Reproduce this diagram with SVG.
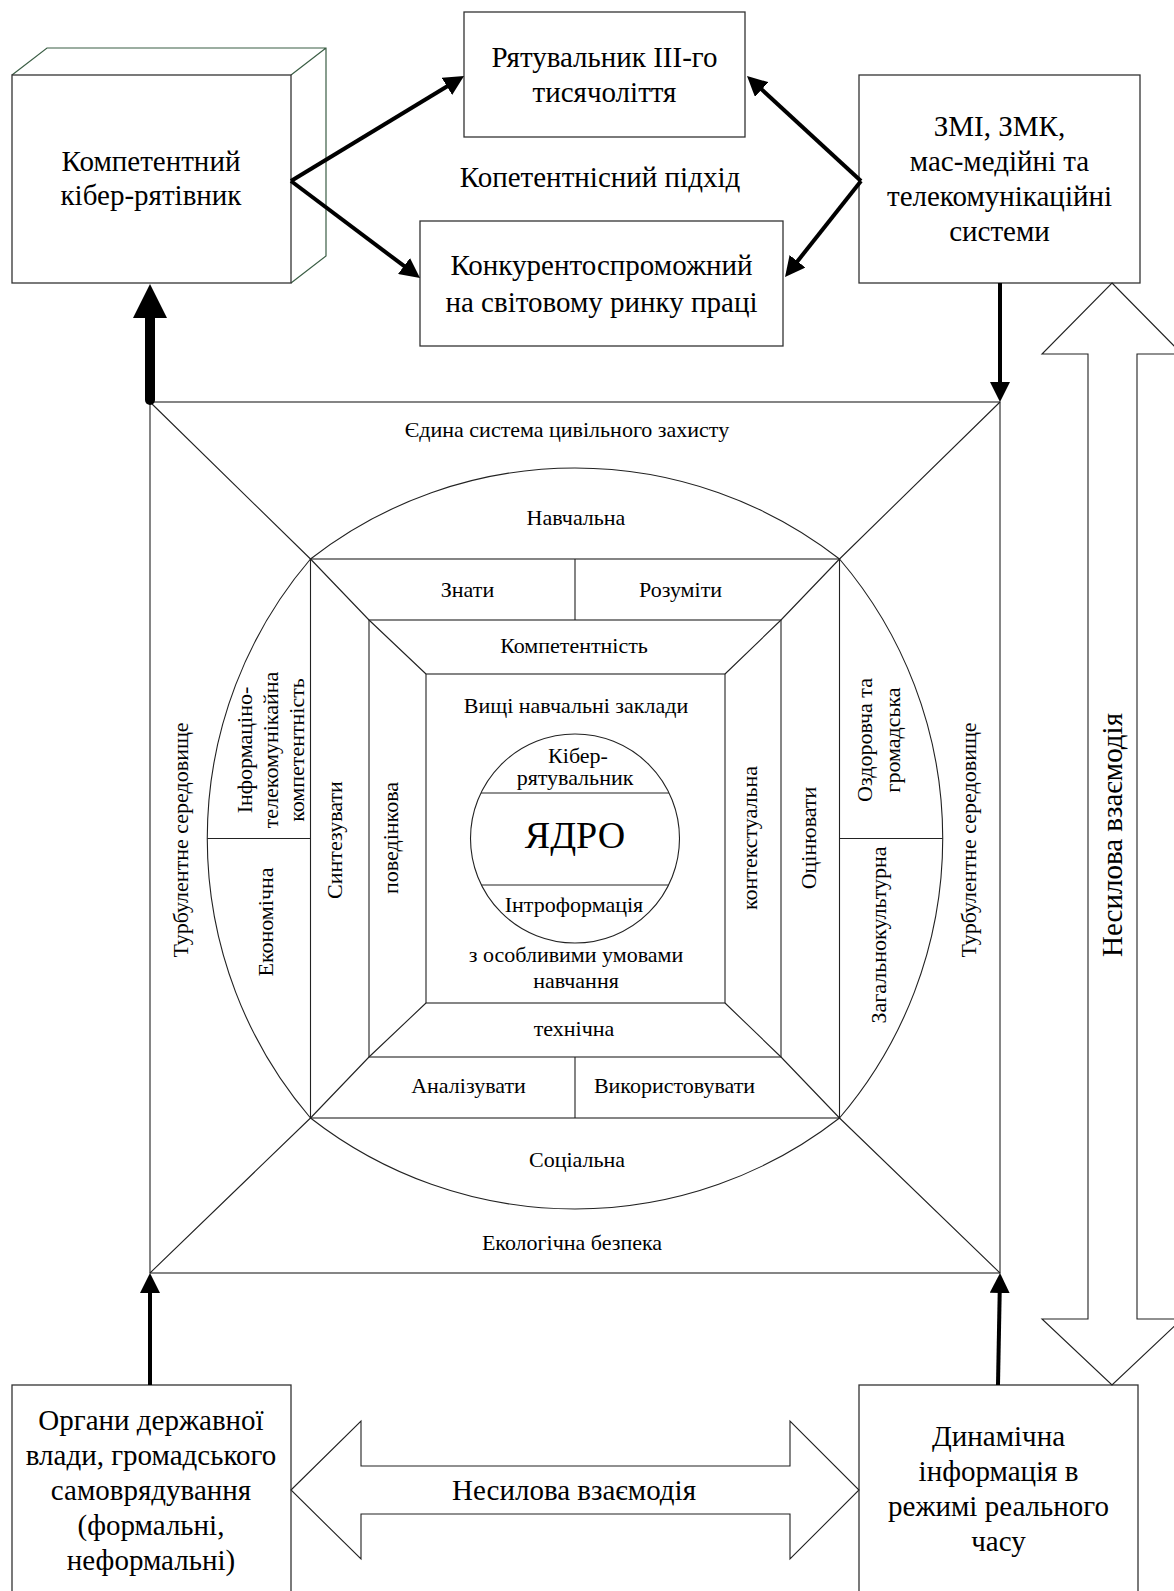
<svg xmlns="http://www.w3.org/2000/svg" width="1174" height="1591" viewBox="0 0 1174 1591">
<style>
  .box{fill:#fff;stroke:#333;stroke-width:1.3}
  .edge{fill:none;stroke:#3b5e45;stroke-width:1.2}
  .ln{fill:none;stroke:#222;stroke-width:1.1}
  .t{font-family:"Liberation Serif","Times New Roman",serif;fill:#000;text-anchor:middle}
  .big{font-size:29px}
  .sm{font-size:22px}
  .arr{fill:none;stroke:#000;stroke-width:4;marker-end:url(#ah)}
  .block{fill:#fff;stroke:#222;stroke-width:1.1}
</style>
<defs>
  <marker id="ah" viewBox="0 0 20 20" refX="12" refY="10" markerWidth="20" markerHeight="20" markerUnits="userSpaceOnUse" orient="auto">
    <path d="M0,0 L20,10 L0,20 z" fill="#000"/>
  </marker>
  <marker id="ahBig" viewBox="0 0 34 34" refX="14" refY="17" markerWidth="34" markerHeight="34" markerUnits="userSpaceOnUse" orient="auto">
    <path d="M0,0 L34,17 L0,34 z" fill="#000"/>
  </marker>
</defs>
<rect width="1174" height="1591" fill="#fff"/>

<!-- Model (central scheme) -->
<g id="model">
  <rect class="ln" x="150" y="402" width="850" height="871"/>
  <path class="ln" d="M150,402 L310.5,559 M1000,402 L839.5,559 M150,1273 L310.5,1118 M1000,1273 L839.5,1118"/>
  <path class="ln" d="M310.5,559 A430,430 0 0 1 839.5,559 A430,430 0 0 1 839.5,1118 A430,430 0 0 1 310.5,1118 A430,430 0 0 1 310.5,559 Z"/>
  <rect class="ln" x="310.5" y="559" width="529" height="559"/>
  <rect class="ln" x="369" y="620" width="412" height="437"/>
  <rect class="ln" x="426" y="674" width="299" height="329"/>
  <path class="ln" d="M310.5,559 L369,620 L426,674 M839.5,559 L781,620 L725,674 M310.5,1118 L369,1057 L426,1003 M839.5,1118 L781,1057 L725,1003"/>
  <path class="ln" d="M575,559 V620 M575,1057 V1118 M207.3,838.5 H310.5 M839.5,838.5 H942.7"/>
  <circle class="ln" cx="575" cy="838.5" r="104.5"/>
  <path class="ln" d="M481,793 H669 M481.5,885 H668.5"/>

  <g class="t sm">
    <text x="567" y="437">Єдина система цивільного захисту</text>
    <text x="576" y="525">Навчальна</text>
    <text x="467.5" y="597">Знати</text>
    <text x="680.5" y="597">Розуміти</text>
    <text x="574" y="653">Компетентність</text>
    <text x="576" y="713">Вищі навчальні заклади</text>
    <text x="578" y="763">Кібер-</text>
    <text x="575" y="785">рятувальник</text>
    <text x="574" y="912">Інтроформація</text>
    <text x="576" y="962">з особливими умовами</text>
    <text x="576" y="988">навчання</text>
    <text x="574" y="1036">технічна</text>
    <text x="468.5" y="1093">Аналізувати</text>
    <text x="674.5" y="1093">Використовувати</text>
    <text x="577" y="1167">Соціальна</text>
    <text x="572" y="1250">Екологічна безпека</text>
    <text transform="translate(188,840) rotate(-90)">Турбулентне середовище</text>
    <text transform="translate(252,750) rotate(-90)">Інформаціно-</text>
    <text transform="translate(278,750) rotate(-90)">телекомунікайна</text>
    <text transform="translate(304,750) rotate(-90)">компетентність</text>
    <text transform="translate(273,922) rotate(-90)">Економічна</text>
    <text transform="translate(342,840) rotate(-90)">Синтезувати</text>
    <text transform="translate(398,838) rotate(-90)">поведінкова</text>
    <text transform="translate(757,838) rotate(-90)">контекстуальна</text>
    <text transform="translate(816,838) rotate(-90)">Оцінювати</text>
    <text transform="translate(872,740) rotate(-90)">Оздоровча та</text>
    <text transform="translate(900,740) rotate(-90)">громадська</text>
    <text transform="translate(886,935) rotate(-90)">Загальнокультурна</text>
    <text transform="translate(976,840) rotate(-90)">Турбулентне середовище</text>
  </g>
  <text class="t" x="575" y="848" font-size="38">ЯДРО</text>
</g>

<!-- Top nodes -->
<g id="cyber-rescuer">
  <path class="edge" d="M12,75 L47,48 H326 V256 L291,283 M291,75 L326,48"/>
  <rect class="box" x="12" y="75" width="279" height="208"/>
  <text class="t big" x="151" y="171">Компетентний</text>
  <text class="t big" x="151" y="205">кібер-рятівник</text>
</g>

<g id="rescuer-3rd-millennium">
  <rect class="box" x="464" y="12" width="281" height="125"/>
  <text class="t big" x="604.5" y="67">Рятувальник ІІІ-го</text>
  <text class="t big" x="604.5" y="102">тисячоліття</text>
</g>

<g id="competence-approach">
  <text class="t big" x="600" y="187">Копетентнісний підхід</text>
</g>

<g id="competitive">
  <rect class="box" x="420" y="221" width="363" height="125"/>
  <text class="t big" x="601.5" y="275">Конкурентоспроможний</text>
  <text class="t big" x="601.5" y="312">на світовому ринку праці</text>
</g>

<g id="media-systems">
  <rect class="box" x="859" y="75" width="281" height="208"/>
  <text class="t big" x="999.5" y="136">ЗМІ, ЗМК,</text>
  <text class="t big" x="999.5" y="171">мас-медійні та</text>
  <text class="t big" x="999.5" y="206">телекомунікаційні</text>
  <text class="t big" x="999.5" y="241">системи</text>
</g>

<!-- Bottom nodes -->
<g id="authorities">
  <rect class="box" x="12" y="1385" width="279" height="220"/>
  <text class="t big" x="151" y="1430">Органи державної</text>
  <text class="t big" x="151" y="1465">влади, громадського</text>
  <text class="t big" x="151" y="1500">самоврядування</text>
  <text class="t big" x="151" y="1535">(формальні,</text>
  <text class="t big" x="151" y="1570">неформальні)</text>
</g>

<g id="dynamic-info">
  <rect class="box" x="859" y="1385" width="279" height="220"/>
  <text class="t big" x="998.5" y="1446">Динамічна</text>
  <text class="t big" x="998.5" y="1481">інформація в</text>
  <text class="t big" x="998.5" y="1516">режимі реального</text>
  <text class="t big" x="998.5" y="1551">часу</text>
</g>

<!-- Connectors -->
<g id="connectors">
  <line x1="150" y1="400" x2="150" y2="304" stroke="#000" stroke-width="10" stroke-linecap="round" marker-end="url(#ahBig)"/>
  <line class="arr" x1="291" y1="181" x2="457.2" y2="80.2"/>
  <line class="arr" x1="291" y1="181" x2="413.6" y2="273.2"/>
  <line class="arr" x1="861" y1="181" x2="752.9" y2="81.4"/>
  <line class="arr" x1="861" y1="181" x2="790" y2="270.7"/>
  <line class="arr" x1="1000" y1="283" x2="1000" y2="394"/>
  <line class="arr" x1="150" y1="1385" x2="150" y2="1281"/>
  <line class="arr" x1="998" y1="1385" x2="999.9" y2="1281"/>
  <polygon class="block" points="291,1490 361,1421 361,1466 790,1466 790,1421 859,1490 790,1559 790,1514 361,1514 361,1559"/>
  <text class="t big" x="574" y="1500">Несилова взаємодія</text>
  <polygon class="block" points="1112,283 1182,354 1137,354 1137,1319 1182,1319 1112,1385 1042,1319 1088,1319 1088,354 1042,354"/>
  <text class="t big" transform="translate(1122,835) rotate(-90)">Несилова взаємодія</text>
</g>
</svg>
